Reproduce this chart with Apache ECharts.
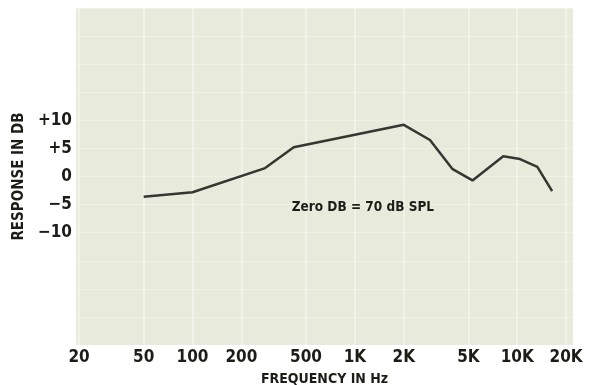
<!DOCTYPE html>
<html>
<head>
<meta charset="utf-8">
<script src="https://cdn.jsdelivr.net/npm/echarts@6/dist/echarts.min.js"></script>
<style>
  html, body { margin: 0; padding: 0; background: #fff; }
  #chart { width: 595px; height: 385px; }
</style>
</head>
<body>
<div id="chart"></div>
<script>
    // values
    var freqHz = [50, 100, 280, 420, 2000, 2900, 4000, 5300, 8200, 10400, 13300, 16400];
    var responseDb = [-3.6, -2.8, 1.5, 5.2, 9.2, 6.5, 1.3, -0.7, 3.6, 3.1, 1.7, -2.6];
    var freqTicks = [20, 50, 100, 200, 500, 1000, 2000, 5000, 10000, 20000];
    var dbTicks = [-10, -5, 0, 5, 10];

    var font = '"Liberation Sans Narrow", "DejaVu Sans Condensed", sans-serif';
    var ink = '#1d1d18';

    function fmtFreq(v) {
        return v >= 1000 ? (v / 1000) + 'K' : String(v);
    }
    function fmtDb(v) {
        if (v > 0) return '+' + v;
        if (v < 0) return '\u2212' + Math.abs(v);
        return '0';
    }

    var points = [];
    for (var i = 0; i < freqHz.length; i++) {
        points.push([freqHz[i], responseDb[i]]);
    }

    var chart = echarts.init(document.getElementById('chart'));

    var option = {
        animation: false,
        grid: {
            left: 76,
            right: 22,
            top: 8,
            bottom: 40,
            outerBoundsMode: 'none',
            containLabel: false,
            show: true,
            backgroundColor: '#e8eadb',
            borderWidth: 0
        },
        xAxis: {
            type: 'log',
            logBase: 10,
            min: 19.15,
            max: 22050,
            name: 'FREQUENCY IN Hz',
            nameLocation: 'middle',
            nameGap: 27,
            nameTextStyle: { fontFamily: font, fontWeight: 'bold', fontSize: 14, color: ink },
            axisLine: { show: false },
            axisTick: { show: false, customValues: freqTicks },
            axisLabel: {
                customValues: freqTicks,
                formatter: fmtFreq,
                fontFamily: font,
                fontWeight: 'bold',
                fontSize: 17,
                color: ink,
                margin: 4
            },
            splitLine: {
                show: true,
                lineStyle: { color: 'rgba(255,255,255,0.5)', width: 1.5 }
            }
        },
        yAxis: {
            type: 'value',
            min: -30,
            max: 30,
            interval: 5,
            name: 'RESPONSE IN DB',
            nameLocation: 'middle',
            nameGap: 36,
            nameRotate: 90,
            nameTextStyle: { fontFamily: font, fontWeight: 'bold', fontSize: 15, color: ink },
            axisLine: { show: false },
            axisTick: { show: false },
            axisLabel: {
                customValues: dbTicks,
                formatter: fmtDb,
                fontFamily: font,
                fontWeight: 'bold',
                fontSize: 17,
                color: ink,
                margin: 4
            },
            splitLine: {
                show: true,
                lineStyle: { color: 'rgba(255,255,255,0.3)', width: 1 }
            }
        },
        series: [{
            type: 'line',
            data: points,
            symbol: 'none',
            lineStyle: { color: '#363632', width: 2.5 },
            markPoint: {
                symbol: 'circle',
                symbolSize: 0,
                data: [{ coord: [1120, -5.5] }],
                label: {
                    show: true,
                    position: 'inside',
                    formatter: 'Zero DB = 70 dB SPL',
                    fontFamily: font,
                    fontWeight: 'bold',
                    fontSize: 13.5,
                    color: ink
                }
            }
        }]
    };

    chart.setOption(option);
</script>
</body>
</html>
